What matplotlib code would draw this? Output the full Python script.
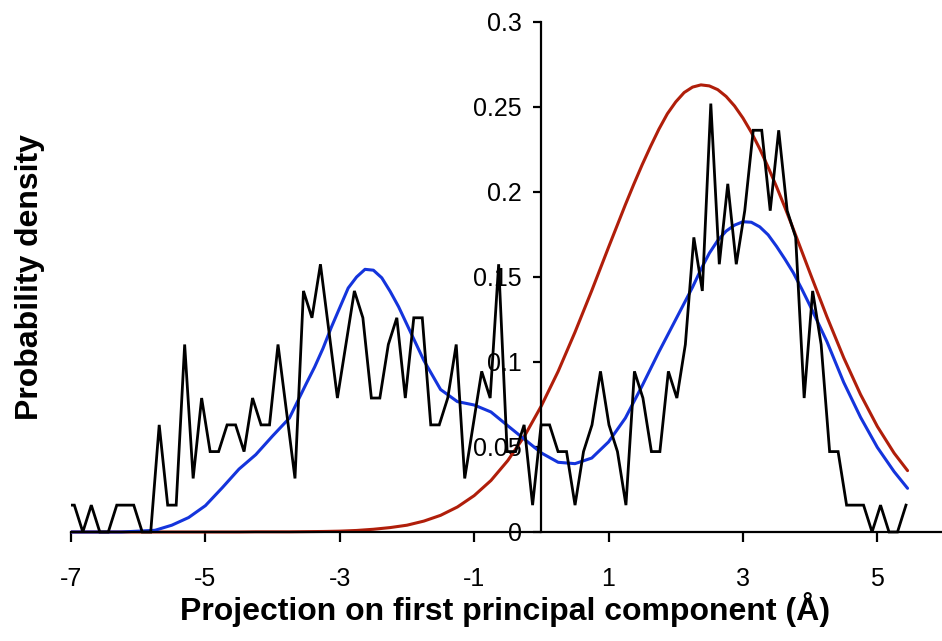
import numpy as np
import matplotlib
matplotlib.use('Agg')
import matplotlib.pyplot as plt

plt.rcParams['font.family'] = ['Liberation Sans', 'DejaVu Sans']
plt.rcParams['axes.unicode_minus'] = False

# ---- data ----
# histogram-style density (black), evenly spaced bins
bin_start = -7.077
bin_width = 0.1263
hist_density = [
    0.0158,
    0.0158, 0, 0.0158, 0, 0, 0.0158, 0.0158, 0.0158, 0, 0,
    0.063, 0.0158, 0.0158, 0.1103, 0.0315, 0.0788, 0.0473, 0.0473, 0.063, 0.063,
    0.0473, 0.0788, 0.063, 0.063, 0.1103, 0.0709, 0.0315, 0.1418, 0.126, 0.1575,
    0.1181, 0.0788, 0.1103, 0.1418, 0.126, 0.0788, 0.0788, 0.1103, 0.126, 0.0788,
    0.126, 0.126, 0.063, 0.063, 0.0788, 0.1103, 0.0315, 0.063, 0.0945, 0.0788,
    0.1575, 0.0473, 0.0473, 0.063, 0.0158, 0.063, 0.063, 0.0473, 0.0473, 0.0158,
    0.0473, 0.063, 0.0945, 0.063, 0.0473, 0.0158, 0.0945, 0.0788, 0.0473, 0.0473,
    0.0945, 0.0788, 0.1103, 0.1733, 0.1418, 0.252, 0.1575, 0.2048, 0.1575, 0.189,
    0.2363, 0.2363, 0.189, 0.2363, 0.189, 0.1733, 0.0788, 0.1418, 0.1103, 0.0473,
    0.0473, 0.0158, 0.0158, 0.0158, 0, 0.0158, 0, 0, 0.0158,
]

# two-component fit (blue)
mixture_x = [
    -7.0, -6.75, -6.5, -6.25, -6.0, -5.75, -5.5, -5.25, -5.0, -4.75,
    -4.5, -4.25, -4.0, -3.75, -3.5, -3.375, -3.25, -3.125, -3.0, -2.875,
    -2.75, -2.625, -2.5, -2.375, -2.25, -2.125, -2.0, -1.875, -1.75, -1.5,
    -1.25, -1.0, -0.75, -0.5, -0.25, 0.0, 0.25, 0.5, 0.75, 1.0,
    1.25, 1.5, 1.75, 2.0, 2.25, 2.375, 2.5, 2.625, 2.75, 2.875,
    3.0, 3.125, 3.25, 3.375, 3.5, 3.625, 3.75, 3.875, 4.0, 4.25,
    4.5, 4.75, 5.0, 5.25, 5.45,
]
mixture_density = [
    0.0, 0.0, 0.0, 0.0, 0.0005, 0.001, 0.004, 0.0085, 0.0155, 0.026,
    0.037, 0.0455, 0.0565, 0.067, 0.0872, 0.097, 0.108, 0.1205, 0.132, 0.1435,
    0.150, 0.1545, 0.154, 0.1495, 0.1415, 0.1325, 0.122, 0.1115, 0.101, 0.0838,
    0.0767, 0.0747, 0.0706, 0.0625, 0.0545, 0.0465, 0.041, 0.0402, 0.0435, 0.053,
    0.067, 0.086, 0.106, 0.125, 0.144, 0.1545, 0.164, 0.1715, 0.177, 0.1805,
    0.1825, 0.1822, 0.1795, 0.1748, 0.168, 0.1605, 0.1525, 0.143, 0.133, 0.112,
    0.088, 0.0675, 0.0498, 0.0355, 0.0257,
]

# single-component fit (red)
single_x = [
    -7.0, -6.5, -6.0, -5.5, -5.0, -4.5, -4.25, -4.0, -3.75, -3.5,
    -3.25, -3.0, -2.75, -2.5, -2.25, -2.0, -1.75, -1.5, -1.25, -1.0,
    -0.75, -0.5, -0.25, 0.0, 0.25, 0.5, 0.75, 1.0, 1.25, 1.375,
    1.5, 1.625, 1.75, 1.875, 2.0, 2.125, 2.25, 2.375, 2.5, 2.625,
    2.75, 2.875, 3.0, 3.125, 3.25, 3.375, 3.5, 3.625, 3.75, 4.0,
    4.25, 4.5, 4.75, 5.0, 5.25, 5.45,
]
single_density = [
    0.0, 0.0, 0.0, 0.0, 0.0, 0.0, 0.0001, 0.0001, 0.0001, 0.0002,
    0.0003, 0.0005, 0.0009, 0.0016, 0.0026, 0.004, 0.0064, 0.0098, 0.0147, 0.0214,
    0.0303, 0.042, 0.0565, 0.0742, 0.0945, 0.1175, 0.142, 0.1675, 0.1925, 0.2045,
    0.216, 0.2268, 0.237, 0.246, 0.253, 0.2585, 0.2617, 0.263, 0.2624, 0.2602,
    0.2562, 0.2506, 0.2435, 0.2351, 0.2254, 0.2146, 0.2031, 0.1909, 0.1782, 0.1522,
    0.1266, 0.1025, 0.0809, 0.0621, 0.0464, 0.0361,
]

x_ticks = [-7, -5, -3, -1, 1, 3, 5]
x_tick_labels = ['-7', '-5', '-3', '-1', '1', '3', '5']
y_ticks = [0, 0.05, 0.1, 0.15, 0.2, 0.25, 0.3]
y_tick_labels = ['0', '0.05', '0.1', '0.15', '0.2', '0.25', '0.3']

# ---- figure ----
fig = plt.figure(figsize=(9.42, 6.41), dpi=100)
ax = fig.add_axes([0.0754, 0.1621, 0.9237, 0.8036])

hist_x = bin_start + bin_width * np.arange(len(hist_density))

ax.plot(single_x, single_density, color='#B01E0A', lw=2.2, zorder=2,
        solid_joinstyle='round', solid_capstyle='round')
ax.plot(mixture_x, mixture_density, color='#1434DC', lw=2.2, zorder=3,
        solid_joinstyle='round', solid_capstyle='round')
ax.plot(hist_x, hist_density, color='black', lw=2.0, zorder=4,
        solid_joinstyle='miter')

ax.set_xlim(-7, 5.95)
ax.set_ylim(-0.003, 0.3)

for s in ['top', 'right']:
    ax.spines[s].set_visible(False)
ax.spines['left'].set_position(('data', 0))
ax.spines['left'].set_bounds(0, 0.3)
ax.spines['bottom'].set_position(('data', 0))
for s in ['left', 'bottom']:
    ax.spines[s].set_linewidth(1.6)
    ax.spines[s].set_zorder(5)

ax.set_xticks(x_ticks)
ax.set_xticklabels(x_tick_labels)
ax.set_yticks(y_ticks)
ax.set_yticklabels(y_tick_labels)
ax.tick_params(axis='x', direction='out', length=7, width=1.6, pad=18,
               labelsize=18)
ax.tick_params(axis='y', direction='out', length=6, width=1.6, pad=8,
               labelsize=18)

fig.text(505 / 942, 1 - 610 / 641, 'Projection on first principal component (Å)',
         ha='center', va='center', fontsize=23, fontweight='bold')
fig.text(30 / 942, 1 - 277 / 641, 'Probability density', rotation=90,
         ha='center', va='center', fontsize=23, fontweight='bold')

fig.savefig('out.png', dpi=100)
